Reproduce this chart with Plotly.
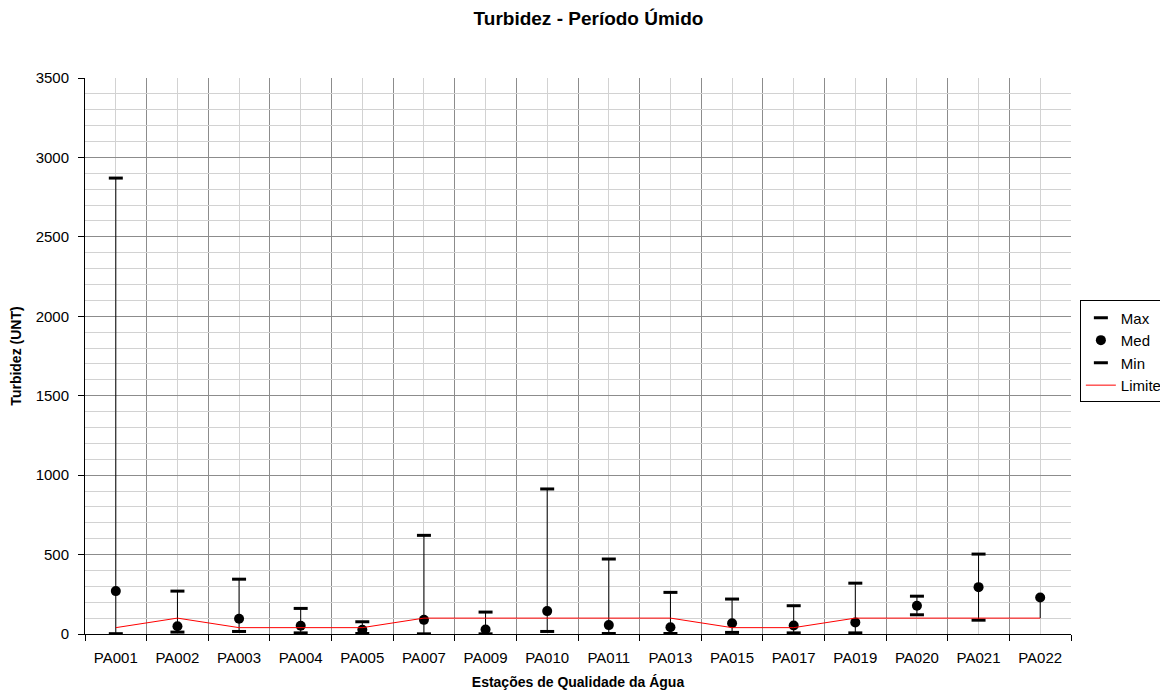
import plotly.graph_objects as go

# Turbidez - Periodo Umido
estacoes = ['PA001', 'PA002', 'PA003', 'PA004', 'PA005', 'PA007', 'PA009', 'PA010',
            'PA011', 'PA013', 'PA015', 'PA017', 'PA019', 'PA020', 'PA021', 'PA022']
vmax = [2870, 270, 345, 161, 77, 621, 138, 913, 472, 262, 220, 178, 320, 238, 503, None]
vmed = [270, 49, 96, 52, 26, 89, 28, 144, 56, 43, 68, 54, 73, 178, 295, 230]
vmin = [2, 12, 16, 7, 3, 1, 1, 16, 3, 3, 10, 7, 7, 121, 87, None]
limite = [40, 100, 40, 40, 40, 100, 100, 100, 100, 100, 40, 40, 100, 100, 100, 100]

FONT = "Liberation Sans, Arial, sans-serif"
xs = list(range(len(estacoes)))

# high-low lines (Min..Max; falls back to Limite / Med when missing)
hx, hy = [], []
for i in xs:
    lo = vmin[i] if vmin[i] is not None else limite[i]
    hi = vmax[i] if vmax[i] is not None else vmed[i]
    hx += [i, i, None]
    hy += [lo, hi, None]

fig = go.Figure()
fig.add_trace(go.Scatter(x=hx, y=hy, mode='lines', line=dict(color='black', width=1),
                         showlegend=False, hoverinfo='skip'))
fig.add_trace(go.Scatter(x=xs, y=vmax, mode='markers', name='Max',
                         marker=dict(symbol='line-ew', size=10, color='black',
                                     line=dict(color='black', width=3))))
fig.add_trace(go.Scatter(x=xs, y=vmed, mode='markers', name='Med',
                         marker=dict(symbol='circle', size=10, color='black')))
fig.add_trace(go.Scatter(x=xs, y=vmin, mode='markers', name='Min',
                         marker=dict(symbol='line-ew', size=10, color='black',
                                     line=dict(color='black', width=3))))
fig.add_trace(go.Scatter(x=xs, y=limite, mode='lines', name='Limite',
                         line=dict(color='#ff0000', width=1)))

# page body has an 8px margin, so the figure is offset by 8px
fig.update_layout(
    width=1168, height=693,
    margin=dict(l=77, r=105, t=70, b=67, autoexpand=False),
    paper_bgcolor='white', plot_bgcolor='white',
    font=dict(family=FONT, size=15, color='black'),
    title=dict(text='<b>Turbidez - Período Úmido</b>', x=0.497, xanchor='center',
               y=0.985, yanchor='middle', font=dict(size=19, color='black'),
               automargin=False),
    legend=dict(x=1.009, y=0.600, xanchor='left', yanchor='top',
                bordercolor='black', borderwidth=1, bgcolor='white',
                font=dict(size=15), tracegroupgap=0),
)

fig.update_xaxes(
    range=[-0.5, 15.5], tickmode='array', tickvals=xs, ticktext=estacoes,
    ticks='', showgrid=True, gridcolor='#d2d2d2', gridwidth=1,
    showline=True, linecolor='black', linewidth=1, zeroline=False,
    tickfont=dict(size=15), ticklabelstandoff=10, automargin=False,
    minor=dict(tickmode='array', tickvals=[i - 0.5 for i in range(len(estacoes) + 1)],
               ticks='outside', ticklen=6, tickcolor='black',
               showgrid=True, gridcolor='#8c8c8c', gridwidth=1),
    title=dict(text='<b>Estações de Qualidade da Água</b>', font=dict(size=14), standoff=12),
)
fig.update_yaxes(
    range=[0, 3500], dtick=500, tick0=0, ticks='outside', ticklen=6, tickcolor='black',
    showgrid=True, gridcolor='#8c8c8c', gridwidth=1,
    minor=dict(dtick=100, showgrid=True, gridcolor='#d2d2d2', gridwidth=1),
    showline=True, linecolor='black', linewidth=1, zeroline=False,
    tickfont=dict(size=15), ticklabelstandoff=6, automargin=False,
    title=dict(text='<b>Turbidez (UNT)</b>', font=dict(size=14), standoff=10),
)

fig.write_html("out.html")
